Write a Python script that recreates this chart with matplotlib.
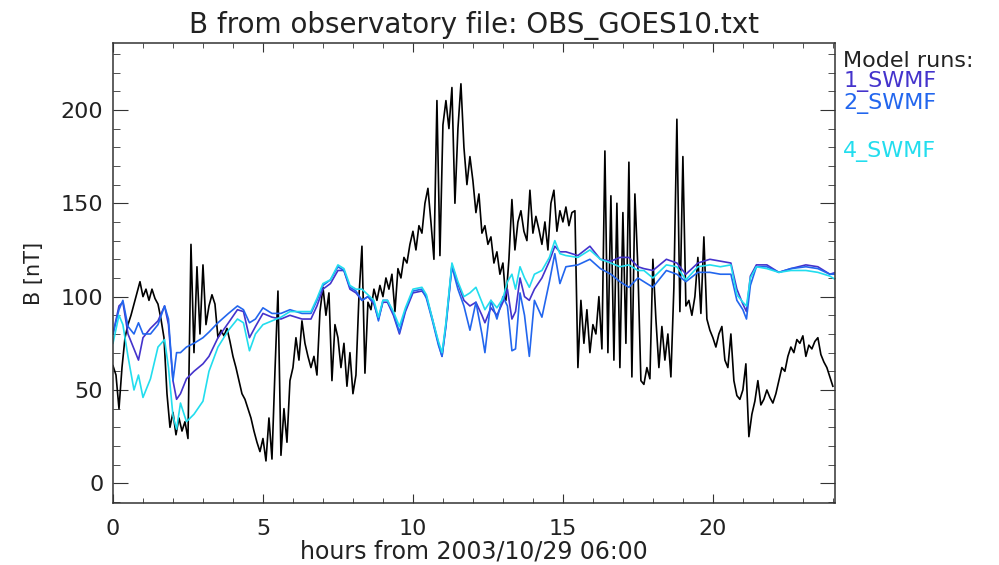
import numpy as np
import matplotlib.pyplot as plt
from matplotlib.ticker import MultipleLocator

# Dados observados (GOES10), a cada 0.1 h
obs_hours = np.arange(0, 241) * 0.1
obs_b = [
    63, 58, 40, 62, 78, 85, 90, 96, 102, 108,
    100, 104, 98, 104, 99, 96, 88, 78, 48, 30,
    38, 26, 35, 28, 33, 24, 128, 70, 116, 80,
    117, 85, 95, 101, 96, 78, 82, 79, 83, 76,
    68, 62, 55, 48, 45, 40, 35, 28, 22, 17,
    24, 12, 35, 13, 60, 103, 15, 40, 22, 55,
    62, 78, 66, 87, 75, 68, 62, 68, 58, 92,
    105, 90, 102, 55, 85, 78, 62, 75, 52, 70,
    48, 58, 100, 127, 59, 97, 93, 104, 98, 106,
    100, 110, 104, 112, 92, 115, 110, 121, 118, 128,
    135, 125, 138, 134, 150, 158, 140, 120, 205, 122,
    192, 205, 190, 212, 150, 190, 214, 180, 160, 175,
    162, 145, 155, 134, 138, 128, 132, 118, 124, 112,
    118, 98, 120, 152, 125, 140, 146, 135, 130, 157,
    134, 143, 136, 128, 140, 125, 150, 157, 135, 146,
    140, 148, 138, 145, 146, 62, 98, 75, 93, 70,
    85, 80, 100, 72, 178, 70, 154, 66, 150, 62,
    145, 75, 172, 57, 155, 115, 55, 53, 62, 56,
    120, 88, 62, 84, 66, 80, 57, 105, 195, 92,
    175, 95, 98, 90, 100, 121, 91, 132, 88, 82,
    78, 73, 80, 84, 66, 62, 80, 55, 47, 45,
    50, 64, 25, 37, 44, 55, 42, 45, 50, 46,
    43, 48, 55, 62, 60, 68, 73, 70, 77, 75,
    79, 68, 74, 72, 76, 78, 69, 65, 62, 57,
    52,
]

# Resultados dos modelos
model_hours = [
    0, 0.2, 0.33, 0.5, 0.7, 0.85, 1.0, 1.25, 1.5, 1.72,
    1.85, 2.0, 2.12, 2.25, 2.45, 2.7, 3.0, 3.2, 3.5, 3.85,
    4.15, 4.35, 4.55, 4.75, 5.0, 5.3, 5.6, 5.9, 6.3, 6.6,
    6.8, 7.0, 7.25, 7.5, 7.7, 7.9, 8.1, 8.3, 8.5, 8.7,
    8.85, 9.0, 9.15, 9.35, 9.55, 9.75, 10.0, 10.3, 10.45, 10.65,
    10.85, 10.97, 11.1, 11.3, 11.5, 11.7, 11.9, 12.1, 12.3, 12.4,
    12.6, 12.8, 13.0, 13.15, 13.3, 13.42, 13.57, 13.72, 13.88, 14.05,
    14.3, 14.55, 14.73, 14.9, 15.1, 15.5, 15.9, 16.25, 16.6, 16.9,
    17.2, 17.5, 17.7, 18.0, 18.45, 18.8, 19.1, 19.5, 19.9, 20.25,
    20.6, 20.8, 21.0, 21.12, 21.25, 21.45, 21.8, 22.2, 22.6, 23.1,
    23.5, 23.9, 24.1,
]
swmf_1 = [
    80, 95, 97, 80, 72, 66, 78, 83, 87, 95,
    85, 55, 45, 48, 56, 60, 64, 68, 78, 86,
    93, 92, 78, 84, 91, 89, 88, 90, 88, 88,
    95, 104, 107, 114, 114, 104, 102, 98, 100, 96,
    88, 97, 97, 90, 80, 92, 102, 103, 100, 88,
    75, 68, 85, 117, 107, 98, 95, 97, 90, 86,
    94, 90, 97, 104, 88, 92, 110, 100, 98, 104,
    110, 119, 127, 124, 124, 122, 127, 120, 119, 121,
    121, 116, 115, 114, 120, 118, 112, 118, 120, 119,
    118, 104, 96, 92, 111, 117, 117, 113, 115, 117,
    116, 112, 113,
]
swmf_2 = [
    80, 93, 98, 84, 80, 86, 80, 80, 85, 95,
    88, 55, 70, 70, 73, 75, 78, 81, 86, 91,
    95, 93, 86, 88, 94, 91, 91, 93, 91, 91,
    98, 106, 109, 116, 114, 105, 103, 98, 100, 97,
    87, 98, 98, 91, 81, 93, 103, 104, 99, 87,
    74, 68, 84, 116, 104, 95, 82, 97, 80, 70,
    98, 88, 100, 95, 71, 72, 102, 90, 68, 98,
    89, 108, 123, 107, 116, 117, 120, 115, 112, 108,
    105, 110, 108, 105, 114, 112, 108, 113, 113, 112,
    112, 98, 93, 88, 106, 116, 116, 113, 115, 116,
    115, 112, 112,
]
swmf_4 = [
    75, 90, 85, 68, 50, 58, 46, 56, 73, 77,
    62, 36, 29, 43, 33, 37, 44, 60, 73, 82,
    88, 86, 71, 80, 85, 87, 89, 92, 92, 92,
    99, 107, 109, 117, 115, 106, 104, 104, 101, 98,
    89, 98, 98, 92, 84, 94, 104, 105, 101, 88,
    76, 70, 86, 118, 108, 100, 102, 105, 97, 93,
    98, 94, 99, 108, 112, 104, 116, 110, 105, 112,
    114, 121, 130, 123, 122, 121, 125, 120, 118, 116,
    117, 114, 114, 110, 117, 116, 109, 116, 117, 116,
    117, 101, 97, 95, 110, 116, 115, 113, 114, 114,
    113, 111, 109,
]

run_names = ["1_SWMF", "2_SWMF", "4_SWMF"]
run_colors = ["#4433cc", "#2266ee", "#22ddee"]

plt.rcParams["font.family"] = "DejaVu Sans"
fig = plt.figure(figsize=(9.99, 5.65), dpi=100)
ax = fig.add_axes([0.1131, 0.1092, 0.7227, 0.8152])

# Observacao em preto, modelos por cima
ax.plot(obs_hours, obs_b, color="black", lw=1.2)
for vals, color in zip([swmf_1, swmf_2, swmf_4], run_colors):
    ax.plot(model_hours, vals, color=color, lw=1.2)

ax.set_xlim(0, 24.07)
ax.set_ylim(-10.7, 236)

ax.xaxis.set_major_locator(MultipleLocator(5))
ax.xaxis.set_minor_locator(MultipleLocator(1))
ax.yaxis.set_major_locator(MultipleLocator(50))
ax.yaxis.set_minor_locator(MultipleLocator(10))

ax.tick_params(axis="both", which="both", direction="in", top=True, right=True,
               labelsize=16, color="#333333", labelcolor="#222222")
ax.tick_params(axis="x", which="major", length=6.5, pad=11)
ax.tick_params(axis="x", which="minor", length=3.6)
ax.tick_params(axis="y", which="major", length=10.8, pad=7)
ax.tick_params(axis="y", which="minor", length=5)
for spine in ax.spines.values():
    spine.set_color("#333333")
    spine.set_linewidth(1.1)

ax.set_title("B from observatory file: OBS_GOES10.txt", fontsize=20, pad=7,
             color="#222222")
ax.set_xlabel("hours from 2003/10/29 06:00", fontsize=17, labelpad=1,
              color="#222222")
ax.set_ylabel("B [nT]", fontsize=15, labelpad=12, color="#222222")

# Lista de rodadas do modelo, a direita
fig.text(0.844, 0.892, "Model runs:", fontsize=16, va="center", color="#222222")
legend_y = [0.855, 0.816, 0.731]
for name, color, y in zip(run_names, run_colors, legend_y):
    fig.text(0.844, y, name, fontsize=16, color=color, va="center")

fig.savefig("out.png", dpi=100)
